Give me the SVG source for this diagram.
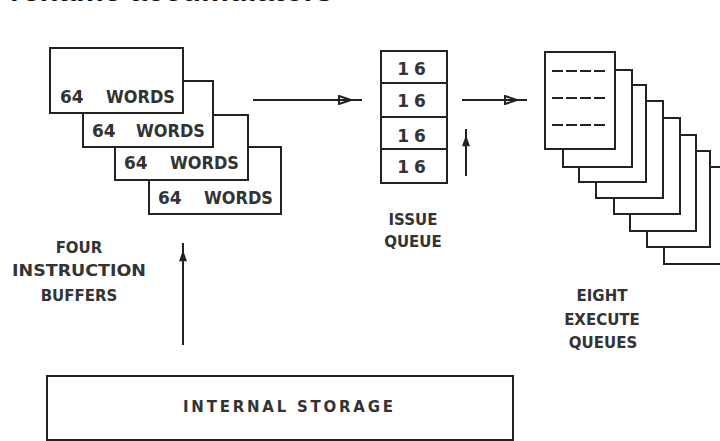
<svg xmlns="http://www.w3.org/2000/svg" width="720" height="441" viewBox="0 0 720 441">
<style>
.box{fill:#fff;stroke:#222;stroke-width:2}
.lbl{font-family:"DejaVu Sans","Liberation Sans",sans-serif;font-weight:bold;fill:#333;font-size:15px}
.mono{font-family:"DejaVu Sans","Liberation Sans",sans-serif;font-weight:bold;fill:#333;font-size:17px}
.wire{fill:none;stroke:#222;stroke-width:2}
.dash{stroke:#222;stroke-width:2;stroke-dasharray:11 3}
.title{font-family:"Liberation Sans",Arial,sans-serif;font-weight:bold;font-size:30px;fill:#111}
</style>
<defs>
<marker id="openHead" viewBox="0 0 14 10" refX="14" refY="5" markerWidth="14" markerHeight="10" markerUnits="userSpaceOnUse" orient="auto">
<path d="M1,1 L13,5 L1,9 Z" fill="none" stroke="#222" stroke-width="2"/>
</marker>
<marker id="solidHead" viewBox="0 0 14 10" refX="14" refY="5" markerWidth="14" markerHeight="8" markerUnits="userSpaceOnUse" orient="auto">
<path d="M0,0 L14,5 L0,10 Z" fill="#222"/>
</marker>
</defs>
<rect width="720" height="441" fill="#fff"/>
<text class="title" x="10" y="1" textLength="323" lengthAdjust="spacingAndGlyphs">rename accumulators</text>

<g id="instruction-buffers">
<rect class="box" x="149" y="147" width="132" height="67"/>
<text class="mono" x="158" y="204">64</text>
<text class="mono" x="204" y="204" textLength="69" lengthAdjust="spacingAndGlyphs">WORDS</text>
<rect class="box" x="115" y="115" width="133" height="65"/>
<text class="mono" x="124" y="169">64</text>
<text class="mono" x="170" y="169" textLength="69" lengthAdjust="spacingAndGlyphs">WORDS</text>
<rect class="box" x="83" y="81" width="130" height="66"/>
<text class="mono" x="92" y="137">64</text>
<text class="mono" x="136" y="137" textLength="69" lengthAdjust="spacingAndGlyphs">WORDS</text>
<rect class="box" x="50" y="48" width="133" height="65"/>
<text class="mono" x="60" y="103">64</text>
<text class="mono" x="106" y="103" textLength="69" lengthAdjust="spacingAndGlyphs">WORDS</text>
</g>
<g id="label-buffers">
<text class="lbl" x="79" y="253" text-anchor="middle">FOUR</text>
<text class="lbl" x="79" y="276" text-anchor="middle" textLength="134" lengthAdjust="spacingAndGlyphs">INSTRUCTION</text>
<text class="lbl" x="79" y="301" text-anchor="middle">BUFFERS</text>
</g>

<g id="issue-queue">
<rect class="box" x="381" y="51" width="66" height="132"/>
<line class="wire" x1="381" y1="83" x2="447" y2="83"/>
<line class="wire" x1="381" y1="117" x2="447" y2="117"/>
<line class="wire" x1="381" y1="149" x2="447" y2="149"/>
<text class="mono" x="414" y="75" text-anchor="middle" letter-spacing="5">16</text>
<text class="mono" x="414" y="107" text-anchor="middle" letter-spacing="5">16</text>
<text class="mono" x="414" y="142" text-anchor="middle" letter-spacing="5">16</text>
<text class="mono" x="414" y="173" text-anchor="middle" letter-spacing="5">16</text>
</g>
<g id="label-issue">
<text class="lbl" x="413" y="225" text-anchor="middle" font-size="16">ISSUE</text>
<text class="lbl" x="413" y="247" text-anchor="middle" font-size="16">QUEUE</text>
</g>

<g id="execute-queues">
<rect class="box" x="664" y="167" width="70" height="97"/>
<rect class="box" x="647" y="151" width="63" height="96"/>
<rect class="box" x="630" y="135" width="66" height="96"/>
<rect class="box" x="614" y="118" width="66" height="96"/>
<rect class="box" x="596" y="101" width="67" height="97"/>
<rect class="box" x="579" y="85" width="67" height="97"/>
<rect class="box" x="563" y="70" width="69" height="97"/>
<rect class="box" x="545" y="52" width="70" height="97"/>
<line class="dash" x1="552" y1="71" x2="608" y2="71"/>
<line class="dash" x1="552" y1="98" x2="608" y2="98"/>
<line class="dash" x1="552" y1="125" x2="608" y2="125"/>
</g>
<g id="label-execute">
<text class="lbl" x="602" y="301" text-anchor="middle">EIGHT</text>
<text class="lbl" x="602" y="325" text-anchor="middle">EXECUTE</text>
<text class="lbl" x="603" y="348" text-anchor="middle">QUEUES</text>
</g>

<g id="internal-storage">
<rect class="box" x="47" y="376" width="466" height="64"/>
<text class="lbl" x="288" y="412" text-anchor="middle" textLength="210" lengthAdjust="spacing">INTERNAL STORAGE</text>
</g>

<g id="connectors">
<path class="wire" d="M253 100 L352 100 L362 100" marker-mid="url(#openHead)"/>
<path class="wire" d="M462 100 L518 100 L527 100" marker-mid="url(#openHead)"/>
<path class="wire" d="M466 176 L466 135 L466 129" marker-mid="url(#solidHead)"/>
<path class="wire" d="M183 345 L183 250 L183 243" marker-mid="url(#solidHead)"/>
</g>
</svg>
